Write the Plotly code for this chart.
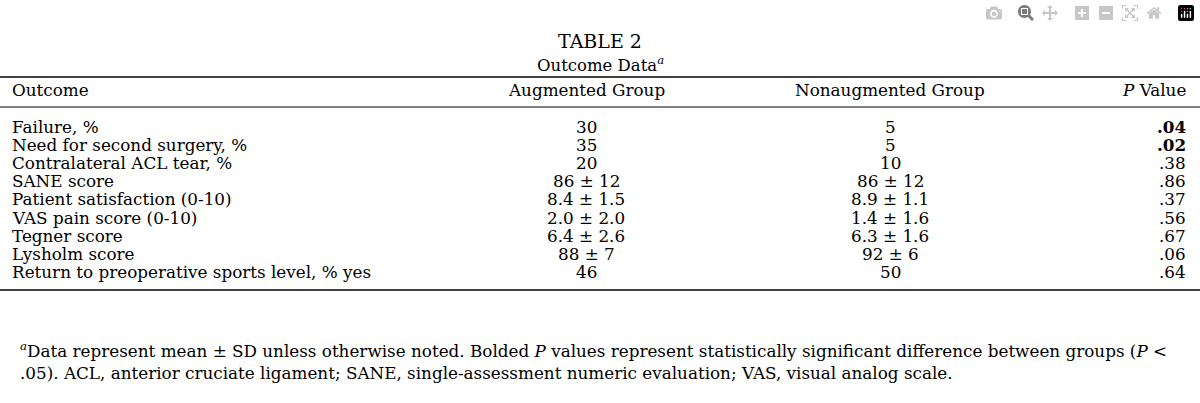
import plotly.graph_objects as go

outcomes = ["Failure, %", "Need for second surgery, %", "Contralateral ACL tear, %",
            "SANE score", "Patient satisfaction (0-10)", "VAS pain score (0-10)",
            "Tegner score", "Lysholm score", "Return to preoperative sports level, % yes"]
augmented = ["30", "35", "20", "86 ± 12", "8.4 ± 1.5", "2.0 ± 2.0", "6.4 ± 2.6", "88 ± 7", "46"]
nonaugmented = ["5", "5", "10", "86 ± 12", "8.9 ± 1.1", "1.4 ± 1.6", "6.3 ± 1.6", "92 ± 6", "50"]
p_values = [".04", ".02", ".38", ".86", ".37", ".56", ".67", ".06", ".64"]
significant = [True, True, False, False, False, False, False, False, False]

FONT = "DejaVu Serif"
row_y = [127, 145, 163, 181, 199, 218, 236, 254, 272]

fig = go.Figure()
ann = []

def txt(x, y, s, anchor="left", size=16.8):
    ann.append(dict(x=x, y=y, text=s, xref="x", yref="y", showarrow=False,
                    xanchor=anchor, yanchor="middle",
                    font=dict(family=FONT, size=size, color="black")))

txt(600, 41, "TABLE 2", "center", 19)
txt(600, 64, "Outcome Data<sup><i>a</i></sup>", "center", 16.5)

txt(10, 90, "Outcome")
txt(586, 90, "Augmented Group", "center")
txt(890, 90, "Nonaugmented Group", "center")
txt(1188, 90, "<i>P</i> Value", "right")

for i, y in enumerate(row_y):
    txt(10, y, outcomes[i])
    txt(586, y, augmented[i], "center")
    txt(890, y, nonaugmented[i], "center")
    p = "<b>%s</b>" % p_values[i] if significant[i] else p_values[i]
    txt(1188, y, p, "right")

txt(18, 350, "<sup><i>a</i></sup>Data represent mean ± SD unless otherwise noted. Bolded <i>P</i> values "
    "represent statistically significant difference between groups (<i>P</i> <", size=16.8)
txt(18, 373, ".05). ACL, anterior cruciate ligament; SANE, single-assessment numeric evaluation; "
    "VAS, visual analog scale.", size=16.8)

for y, w in [(77, 1.5), (107, 1), (290, 1.5)]:
    fig.add_shape(type="line", x0=0, x1=1200, y0=y, y1=y, xref="x", yref="y",
                  line=dict(color="black", width=w))

fig.update_layout(
    annotations=ann,
    width=1200, height=403,
    margin=dict(l=0, r=0, t=0, b=0),
    plot_bgcolor="white", paper_bgcolor="white",
    xaxis=dict(range=[0, 1200], visible=False),
    yaxis=dict(range=[403, 0], visible=False),
    showlegend=False,
)

fig.write_html("out.html", post_script="document.body.style.margin='0';")
